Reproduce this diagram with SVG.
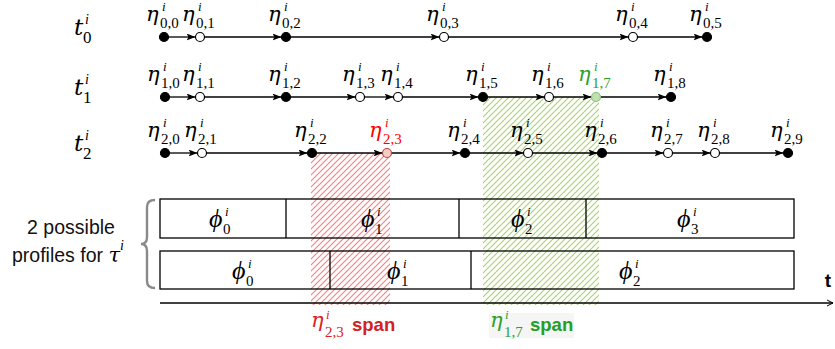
<svg xmlns="http://www.w3.org/2000/svg" width="835" height="349" viewBox="0 0 835 349">
<style>
.m{font-family:"DejaVu Serif","Liberation Serif",serif;font-style:italic;font-size:21px;fill:#000}
.p{font-family:"Liberation Serif","DejaVu Serif",serif;font-style:italic;font-size:26px;fill:#000}
.sub{font-family:"Liberation Serif","DejaVu Serif",serif;font-style:normal;font-size:15px}
.sup{font-family:"Liberation Serif","DejaVu Serif",serif;font-style:italic;font-size:13px}
.f{fill:#000;stroke:#000;stroke-width:1.2}
.o{fill:#fff;stroke:#000;stroke-width:1.2}
.e{stroke:#000;stroke-width:1.3;fill:none;marker-end:url(#ah)}
.box{fill:none;stroke:#000;stroke-width:1.3}
.lbl{font-family:"Liberation Sans",Arial,sans-serif;font-size:19.5px;fill:#111}
.span{font-family:"Liberation Sans",Arial,sans-serif;font-size:18.5px;font-weight:bold}
</style>
<defs>
<marker id="ah" markerUnits="userSpaceOnUse" markerWidth="9" markerHeight="7" viewBox="0 0 9 7" refX="9" refY="3.5" orient="auto">
<path d="M0,0 L9,3.5 L0,7 L2,3.5 z" fill="#000"/>
</marker>
<marker id="ax" markerUnits="userSpaceOnUse" markerWidth="8" markerHeight="8" viewBox="0 0 8 8" refX="7" refY="4" orient="auto">
<path d="M1,1 L7,4 L1,7" fill="none" stroke="#000" stroke-width="1"/>
</marker>
<pattern id="hr" patternUnits="userSpaceOnUse" width="6" height="6">
<path d="M0,6 L6,0 M-1,1 L1,-1 M5,7 L7,5" stroke="#ff7b7b" stroke-width="1.1"/>
</pattern>
<pattern id="hg" patternUnits="userSpaceOnUse" width="6" height="6">
<path d="M0,6 L6,0 M-1,1 L1,-1 M5,7 L7,5" stroke="#a4d46a" stroke-width="1.1"/>
</pattern>
</defs>
<rect width="835" height="349" fill="#fff"/>

<!-- hatched spans -->
<rect id="span-red" x="311" y="153" width="79" height="152" fill="url(#hr)"/>
<rect id="span-green" x="483" y="97" width="116" height="208" fill="url(#hg)"/>

<!-- row labels -->
<g id="t0"><text class="m" style="font-size:23px"><tspan x="74" y="35">t</tspan><tspan class="sup" x="85" y="24" style="font-size:14px">i</tspan><tspan class="sub" x="83" y="43" style="font-size:17px">0</tspan></text></g>
<g id="t1"><text class="m" style="font-size:23px"><tspan x="74" y="95">t</tspan><tspan class="sup" x="85" y="84" style="font-size:14px">i</tspan><tspan class="sub" x="83" y="103" style="font-size:17px">1</tspan></text></g>
<g id="t2"><text class="m" style="font-size:23px"><tspan x="74" y="151">t</tspan><tspan class="sup" x="85" y="140" style="font-size:14px">i</tspan><tspan class="sub" x="83" y="159" style="font-size:17px">2</tspan></text></g>

<!-- connectors -->
<g id="connectors">
<line class="e" x1="168.5" y1="37" x2="195.5" y2="37"/>
<line class="e" x1="204.5" y1="37" x2="281.5" y2="37"/>
<line class="e" x1="290.5" y1="37" x2="439.5" y2="37"/>
<line class="e" x1="448.5" y1="37" x2="628.5" y2="37"/>
<line class="e" x1="637.5" y1="37" x2="702.5" y2="37"/>

<line class="e" x1="169.5" y1="97" x2="195.5" y2="97"/>
<line class="e" x1="204.5" y1="97" x2="281.5" y2="97"/>
<line class="e" x1="290.5" y1="97" x2="355.5" y2="97"/>
<line class="e" x1="364.5" y1="97" x2="393.5" y2="97"/>
<line class="e" x1="402.5" y1="97" x2="478.5" y2="97"/>
<line class="e" x1="487.5" y1="97" x2="544.5" y2="97"/>
<line class="e" x1="553.5" y1="97" x2="591.5" y2="97"/>
<line class="e" x1="600.5" y1="97" x2="666.5" y2="97"/>

<line class="e" x1="169.5" y1="153" x2="197.5" y2="153"/>
<line class="e" x1="206.5" y1="153" x2="307.5" y2="153"/>
<line class="e" x1="316.5" y1="153" x2="382.5" y2="153"/>
<line class="e" x1="391.5" y1="153" x2="460.5" y2="153"/>
<line class="e" x1="469.5" y1="153" x2="523.5" y2="153"/>
<line class="e" x1="532.5" y1="153" x2="597.5" y2="153"/>
<line class="e" x1="606.5" y1="153" x2="663.5" y2="153"/>
<line class="e" x1="672.5" y1="153" x2="710.5" y2="153"/>
<line class="e" x1="719.5" y1="153" x2="783.5" y2="153"/>

<line id="time-axis" x1="160" y1="303" x2="833" y2="303" stroke="#000" stroke-width="1.3" marker-end="url(#ax)"/>
</g>

<!-- row 0 -->
<g id="n0_0" transform="translate(164,37)"><circle class="f" r="4.5"/><text class="m"><tspan x="-18" y="-16">η</tspan><tspan class="sup" x="-2" y="-26">i</tspan><tspan class="sub" x="-4" y="-9">0,0</tspan></text></g>
<g id="n0_1" transform="translate(200,37)"><circle class="o" r="4.5"/><text class="m"><tspan x="-18" y="-16">η</tspan><tspan class="sup" x="-2" y="-26">i</tspan><tspan class="sub" x="-4" y="-9">0,1</tspan></text></g>
<g id="n0_2" transform="translate(286,37)"><circle class="f" r="4.5"/><text class="m"><tspan x="-18" y="-16">η</tspan><tspan class="sup" x="-2" y="-26">i</tspan><tspan class="sub" x="-4" y="-9">0,2</tspan></text></g>
<g id="n0_3" transform="translate(444,37)"><circle class="o" r="4.5"/><text class="m"><tspan x="-18" y="-16">η</tspan><tspan class="sup" x="-2" y="-26">i</tspan><tspan class="sub" x="-4" y="-9">0,3</tspan></text></g>
<g id="n0_4" transform="translate(633,37)"><circle class="o" r="4.5"/><text class="m"><tspan x="-18" y="-16">η</tspan><tspan class="sup" x="-2" y="-26">i</tspan><tspan class="sub" x="-4" y="-9">0,4</tspan></text></g>
<g id="n0_5" transform="translate(707,37)"><circle class="f" r="4.5"/><text class="m"><tspan x="-18" y="-16">η</tspan><tspan class="sup" x="-2" y="-26">i</tspan><tspan class="sub" x="-4" y="-9">0,5</tspan></text></g>

<!-- row 1 -->
<g id="n1_0" transform="translate(165,97)"><circle class="f" r="4.5"/><text class="m"><tspan x="-18" y="-16">η</tspan><tspan class="sup" x="-2" y="-26">i</tspan><tspan class="sub" x="-4" y="-9">1,0</tspan></text></g>
<g id="n1_1" transform="translate(200,97)"><circle class="o" r="4.5"/><text class="m"><tspan x="-18" y="-16">η</tspan><tspan class="sup" x="-2" y="-26">i</tspan><tspan class="sub" x="-4" y="-9">1,1</tspan></text></g>
<g id="n1_2" transform="translate(286,97)"><circle class="f" r="4.5"/><text class="m"><tspan x="-18" y="-16">η</tspan><tspan class="sup" x="-2" y="-26">i</tspan><tspan class="sub" x="-4" y="-9">1,2</tspan></text></g>
<g id="n1_3" transform="translate(360,97)"><circle class="o" r="4.5"/><text class="m"><tspan x="-18" y="-16">η</tspan><tspan class="sup" x="-2" y="-26">i</tspan><tspan class="sub" x="-4" y="-9">1,3</tspan></text></g>
<g id="n1_4" transform="translate(398,97)"><circle class="o" r="4.5"/><text class="m"><tspan x="-18" y="-16">η</tspan><tspan class="sup" x="-2" y="-26">i</tspan><tspan class="sub" x="-4" y="-9">1,4</tspan></text></g>
<g id="n1_5" transform="translate(483,97)"><circle class="f" r="4.5"/><text class="m"><tspan x="-18" y="-16">η</tspan><tspan class="sup" x="-2" y="-26">i</tspan><tspan class="sub" x="-4" y="-9">1,5</tspan></text></g>
<g id="n1_6" transform="translate(549,97)"><circle class="o" r="4.5"/><text class="m"><tspan x="-18" y="-16">η</tspan><tspan class="sup" x="-2" y="-26">i</tspan><tspan class="sub" x="-4" y="-9">1,6</tspan></text></g>
<g id="n1_7" transform="translate(596,97)"><circle r="4.5" fill="#bfe0b0" stroke="#8cc07a" stroke-width="1.2"/><text class="m" style="fill:#2ca02c"><tspan x="-18" y="-16">η</tspan><tspan class="sup" x="-2" y="-26">i</tspan><tspan class="sub" x="-4" y="-9">1,7</tspan></text></g>
<g id="n1_8" transform="translate(671,97)"><circle class="f" r="4.5"/><text class="m"><tspan x="-18" y="-16">η</tspan><tspan class="sup" x="-2" y="-26">i</tspan><tspan class="sub" x="-4" y="-9">1,8</tspan></text></g>

<!-- row 2 -->
<g id="n2_0" transform="translate(165,153)"><circle class="f" r="4.5"/><text class="m"><tspan x="-18" y="-16">η</tspan><tspan class="sup" x="-2" y="-26">i</tspan><tspan class="sub" x="-4" y="-9">2,0</tspan></text></g>
<g id="n2_1" transform="translate(202,153)"><circle class="o" r="4.5"/><text class="m"><tspan x="-18" y="-16">η</tspan><tspan class="sup" x="-2" y="-26">i</tspan><tspan class="sub" x="-4" y="-9">2,1</tspan></text></g>
<g id="n2_2" transform="translate(312,153)"><circle class="f" r="4.5"/><text class="m"><tspan x="-18" y="-16">η</tspan><tspan class="sup" x="-2" y="-26">i</tspan><tspan class="sub" x="-4" y="-9">2,2</tspan></text></g>
<g id="n2_3" transform="translate(387,153)"><circle r="4.5" fill="#f8cbc4" stroke="#b04a40" stroke-width="1.2"/><text class="m" style="fill:#ff0000"><tspan x="-18" y="-16">η</tspan><tspan class="sup" x="-2" y="-26">i</tspan><tspan class="sub" x="-4" y="-9">2,3</tspan></text></g>
<g id="n2_4" transform="translate(465,153)"><circle class="f" r="4.5"/><text class="m"><tspan x="-18" y="-16">η</tspan><tspan class="sup" x="-2" y="-26">i</tspan><tspan class="sub" x="-4" y="-9">2,4</tspan></text></g>
<g id="n2_5" transform="translate(528,153)"><circle class="o" r="4.5"/><text class="m"><tspan x="-18" y="-16">η</tspan><tspan class="sup" x="-2" y="-26">i</tspan><tspan class="sub" x="-4" y="-9">2,5</tspan></text></g>
<g id="n2_6" transform="translate(602,153)"><circle class="f" r="4.5"/><text class="m"><tspan x="-18" y="-16">η</tspan><tspan class="sup" x="-2" y="-26">i</tspan><tspan class="sub" x="-4" y="-9">2,6</tspan></text></g>
<g id="n2_7" transform="translate(668,153)"><circle class="o" r="4.5"/><text class="m"><tspan x="-18" y="-16">η</tspan><tspan class="sup" x="-2" y="-26">i</tspan><tspan class="sub" x="-4" y="-9">2,7</tspan></text></g>
<g id="n2_8" transform="translate(715,153)"><circle class="o" r="4.5"/><text class="m"><tspan x="-18" y="-16">η</tspan><tspan class="sup" x="-2" y="-26">i</tspan><tspan class="sub" x="-4" y="-9">2,8</tspan></text></g>
<g id="n2_9" transform="translate(788,153)"><circle class="f" r="4.5"/><text class="m"><tspan x="-18" y="-16">η</tspan><tspan class="sup" x="-2" y="-26">i</tspan><tspan class="sub" x="-4" y="-9">2,9</tspan></text></g>

<!-- profiles -->
<g id="profile1">
<rect class="box" x="160" y="199" width="634" height="39"/>
<line class="box" x1="286" y1="199" x2="286" y2="238"/>
<line class="box" x1="459" y1="199" x2="459" y2="238"/>
<line class="box" x1="586" y1="199" x2="586" y2="238"/>
<text class="p"><tspan x="209" y="227">ϕ</tspan><tspan class="sup" x="225" y="216">i</tspan><tspan class="sub" x="223" y="234">0</tspan></text>
<text class="p"><tspan x="361" y="227">ϕ</tspan><tspan class="sup" x="377" y="216">i</tspan><tspan class="sub" x="375" y="234">1</tspan></text>
<text class="p"><tspan x="511" y="227">ϕ</tspan><tspan class="sup" x="527" y="216">i</tspan><tspan class="sub" x="525" y="234">2</tspan></text>
<text class="p"><tspan x="677" y="227">ϕ</tspan><tspan class="sup" x="693" y="216">i</tspan><tspan class="sub" x="691" y="234">3</tspan></text>
</g>
<g id="profile2">
<rect class="box" x="160" y="251" width="634" height="38"/>
<line class="box" x1="330" y1="251" x2="330" y2="289"/>
<line class="box" x1="471" y1="251" x2="471" y2="289"/>
<text class="p"><tspan x="232" y="279">ϕ</tspan><tspan class="sup" x="248" y="268">i</tspan><tspan class="sub" x="246" y="286">0</tspan></text>
<text class="p"><tspan x="387" y="279">ϕ</tspan><tspan class="sup" x="403" y="268">i</tspan><tspan class="sub" x="401" y="286">1</tspan></text>
<text class="p"><tspan x="619" y="279">ϕ</tspan><tspan class="sup" x="635" y="268">i</tspan><tspan class="sub" x="633" y="286">2</tspan></text>
</g>

<!-- brace and caption -->
<g id="caption">
<path d="M155,200 Q147,200 147,207 L147,237 Q147,244 141,244 Q147,244 147,251 L147,281 Q147,288 155,288" fill="none" stroke="#8a8a8a" stroke-width="2.4"/>
<text class="lbl" x="71" y="234" text-anchor="middle">2 possible</text>
<text class="lbl" x="12" y="262">profiles for <tspan class="m" style="font-size:21px">τ</tspan><tspan class="sup" x="120" y="250" style="fill:#000;font-size:14px">i</tspan></text>
</g>

<text id="t-axis-label" x="828" y="287" text-anchor="middle" style="font-family:'Liberation Sans',Arial,sans-serif;font-size:19px;font-weight:bold">t</text>

<!-- bottom labels -->
<g id="label-red">
<text class="m" style="fill:#e02020"><tspan x="311" y="327">η</tspan><tspan class="sup" x="326" y="319">i</tspan><tspan class="sub" x="325" y="337">2,3</tspan></text>
<text class="span" x="352" y="331" fill="#d42020">span</text>
</g>
<g id="label-green">
<rect x="489" y="313" width="85" height="25" fill="#f5f5f5"/>
<text class="m" style="fill:#2ca02c"><tspan x="490" y="327">η</tspan><tspan class="sup" x="505" y="319">i</tspan><tspan class="sub" x="504" y="337">1,7</tspan></text>
<text class="span" x="530" y="331" fill="#22a022">span</text>
</g>
</svg>
